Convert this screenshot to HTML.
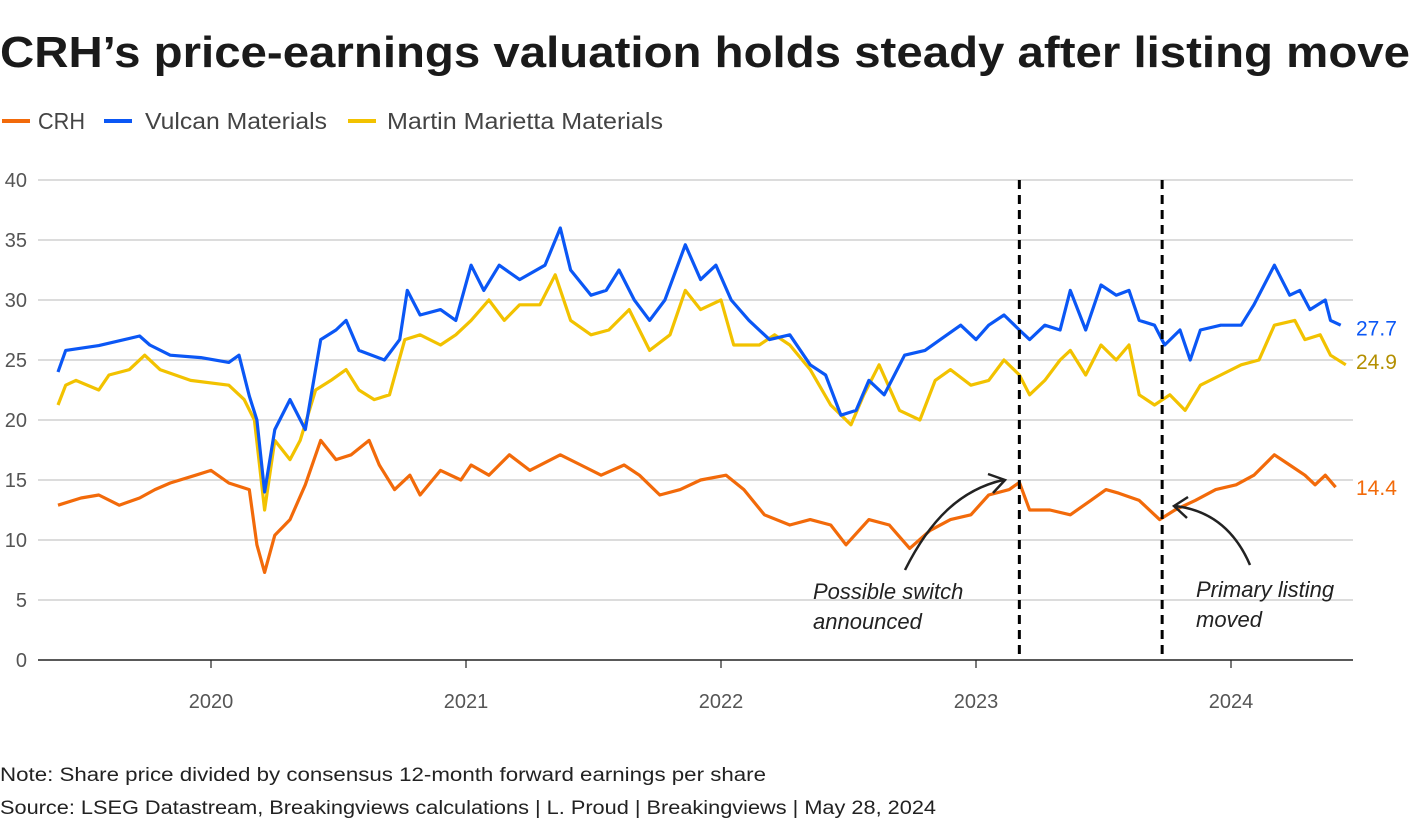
<!DOCTYPE html>
<html><head><meta charset="utf-8"><style>
body{margin:0;background:#fff;font-family:"Liberation Sans",sans-serif;}
#wrap{position:relative;width:1420px;height:828px;overflow:hidden;}
</style></head><body>
<div id="wrap">
<svg id="chart" width="1420" height="828">
<text x="0" y="67" font-size="44" font-weight="bold" fill="#1a1a1a" textLength="1410" lengthAdjust="spacingAndGlyphs">CRH’s price-earnings valuation holds steady after listing move</text>
<g font-size="23" fill="#444">
<line x1="2" y1="121" x2="30" y2="121" stroke="#f26a0a" stroke-width="4"/>
<text x="38" y="129" textLength="47" lengthAdjust="spacingAndGlyphs">CRH</text>
<line x1="104" y1="121" x2="132" y2="121" stroke="#0b57f5" stroke-width="4"/>
<text x="145" y="129" textLength="182" lengthAdjust="spacingAndGlyphs">Vulcan Materials</text>
<line x1="348" y1="121" x2="376" y2="121" stroke="#f2c200" stroke-width="4"/>
<text x="387" y="129" textLength="276" lengthAdjust="spacingAndGlyphs">Martin Marietta Materials</text>
</g>
<g id="grid"></g><g id="xaxis"></g><g id="series"></g><g id="annot"></g>
<text x="0" y="781" font-size="19" fill="#222" textLength="766" lengthAdjust="spacingAndGlyphs">Note: Share price divided by consensus 12-month forward earnings per share</text>
<text x="0" y="814" font-size="19" fill="#222" textLength="936" lengthAdjust="spacingAndGlyphs">Source: LSEG Datastream, Breakingviews calculations | L. Proud | Breakingviews | May 28, 2024</text>
</svg>
</div>
<script>
const yTicks=[0,5,10,15,20,25,30,35,40];
const xYears=[2020,2021,2022,2023,2024];
const eventDates=[2023.17,2023.73];
const vulcanDates=[2019.40,2019.43,2019.56,2019.72,2019.76,2019.84,2019.96,2020.07,2020.11,2020.15,2020.18,2020.21,2020.25,2020.31,2020.37,2020.43,2020.49,2020.53,2020.58,2020.68,2020.74,2020.77,2020.82,2020.90,2020.96,2021.02,2021.07,2021.13,2021.21,2021.31,2021.37,2021.41,2021.49,2021.55,2021.60,2021.66,2021.72,2021.78,2021.86,2021.92,2021.98,2022.04,2022.11,2022.19,2022.27,2022.35,2022.41,2022.47,2022.53,2022.58,2022.64,2022.72,2022.80,2022.86,2022.94,2023.00,2023.05,2023.11,2023.17,2023.21,2023.27,2023.33,2023.37,2023.43,2023.49,2023.55,2023.60,2023.64,2023.70,2023.74,2023.80,2023.84,2023.88,2023.96,2024.04,2024.09,2024.17,2024.23,2024.27,2024.31,2024.37,2024.39,2024.43];
const vulcanValues=[24,25.8,26.2,27,26.25,25.4,25.2,24.8,25.4,22,20,14,19.2,21.7,19.2,26.7,27.5,28.3,25.8,25,26.7,30.8,28.75,29.2,28.3,32.9,30.8,32.9,31.7,32.9,36,32.5,30.4,30.8,32.5,30,28.3,30,34.6,31.7,32.9,30,28.3,26.7,27.1,24.6,23.75,20.4,20.8,23.3,22.1,25.4,25.8,26.7,27.9,26.7,27.9,28.75,27.5,26.7,27.9,27.5,30.8,27.5,31.25,30.4,30.8,28.3,27.9,26.25,27.5,25,27.5,27.9,27.9,29.6,32.9,30.4,30.8,29.2,30,28.3,27.9];
const martinDates=[2019.40,2019.43,2019.47,2019.56,2019.60,2019.68,2019.74,2019.80,2019.92,2020.07,2020.13,2020.17,2020.21,2020.25,2020.31,2020.35,2020.41,2020.47,2020.53,2020.58,2020.64,2020.70,2020.76,2020.82,2020.90,2020.96,2021.02,2021.09,2021.15,2021.21,2021.29,2021.35,2021.41,2021.49,2021.56,2021.64,2021.72,2021.80,2021.86,2021.92,2022.00,2022.05,2022.15,2022.21,2022.27,2022.35,2022.43,2022.51,2022.56,2022.62,2022.70,2022.78,2022.84,2022.90,2022.98,2023.05,2023.11,2023.17,2023.21,2023.27,2023.33,2023.37,2023.43,2023.49,2023.55,2023.60,2023.64,2023.70,2023.76,2023.82,2023.88,2023.96,2024.04,2024.11,2024.17,2024.25,2024.29,2024.35,2024.39,2024.45];
const martinValues=[21.25,22.9,23.3,22.5,23.75,24.2,25.4,24.2,23.3,22.9,21.7,20,12.5,18.3,16.7,18.3,22.5,23.3,24.2,22.5,21.7,22.1,26.7,27.1,26.25,27.1,28.3,30,28.3,29.6,29.6,32.1,28.3,27.1,27.5,29.2,25.8,27.1,30.8,29.2,30,26.25,26.25,27.1,26.25,24.2,21.25,19.6,22.1,24.6,20.8,20,23.3,24.2,22.9,23.3,25,23.75,22.1,23.3,25,25.8,23.75,26.25,25,26.25,22.1,21.25,22.1,20.8,22.9,23.75,24.6,25,27.9,28.3,26.7,27.1,25.4,24.6];
const crhDates=[2019.40,2019.49,2019.56,2019.64,2019.72,2019.78,2019.84,2019.94,2020.00,2020.07,2020.15,2020.18,2020.21,2020.25,2020.31,2020.37,2020.43,2020.49,2020.55,2020.62,2020.66,2020.72,2020.78,2020.82,2020.90,2020.98,2021.02,2021.09,2021.17,2021.25,2021.37,2021.45,2021.53,2021.62,2021.68,2021.76,2021.84,2021.92,2022.02,2022.09,2022.17,2022.27,2022.35,2022.43,2022.49,2022.58,2022.66,2022.74,2022.82,2022.90,2022.98,2023.05,2023.13,2023.17,2023.21,2023.29,2023.37,2023.45,2023.51,2023.56,2023.64,2023.72,2023.78,2023.86,2023.94,2024.02,2024.09,2024.17,2024.23,2024.29,2024.33,2024.37,2024.41];
const crhValues=[12.9,13.5,13.75,12.9,13.5,14.2,14.75,15.4,15.8,14.75,14.2,9.6,7.3,10.4,11.7,14.6,18.3,16.7,17.1,18.3,16.25,14.2,15.4,13.75,15.8,15,16.25,15.4,17.1,15.8,17.1,16.25,15.4,16.25,15.4,13.75,14.2,15,15.4,14.2,12.1,11.25,11.7,11.25,9.6,11.7,11.25,9.3,10.8,11.7,12.1,13.75,14.2,14.8,12.5,12.5,12.1,13.3,14.2,13.9,13.3,11.7,12.5,13.3,14.2,14.6,15.4,17.1,16.25,15.4,14.6,15.4,14.4];
const endLabels=["27.7","24.9","14.4"];
const endValues=[27.7,24.9,14.4];

const NS="http://www.w3.org/2000/svg";
const X0=38,X1=1353,Y0=660,Y1=180;
function xs(t){return 211+(t-2020)*255;}
function ys(v){return Y0-(v/40)*(Y0-Y1);}
function mk(tag,attrs,parent,text){const e=document.createElementNS(NS,tag);for(const k in attrs)e.setAttribute(k,attrs[k]);if(text!==undefined)e.textContent=text;parent.appendChild(e);return e;}
const grid=document.getElementById('grid'),xa=document.getElementById('xaxis'),ser=document.getElementById('series'),an=document.getElementById('annot');
yTicks.forEach(v=>{
  const l=mk('line',{x1:X0,x2:X1,y1:ys(v),y2:ys(v),stroke:v===0?'#222':'#c8c8c8','stroke-width':v===0?1.5:1.2},grid);
  
  
  const t=mk('text',{x:27,y:ys(v)+7,'text-anchor':'end','font-size':20,fill:'#555'},grid,String(v));
  
  
});
xYears.forEach(y=>{
  const l=mk('line',{x1:xs(y),x2:xs(y),y1:Y0,y2:Y0+8,stroke:'#222','stroke-width':1.2},xa);
  
  
  const t=mk('text',{x:xs(y),y:708,'text-anchor':'middle','font-size':20,fill:'#555'},xa,String(y));
  
  
});
function line(d,v,c,name){
  const p=d.map((t,i)=>(i?'L':'M')+xs(t).toFixed(1)+','+ys(v[i]).toFixed(1)).join('');
  const e=mk('path',{d:p,fill:'none',stroke:c,'stroke-width':3.2,'stroke-linejoin':'round'},ser);
  
  
}
line(martinDates,martinValues,'#f2c200','martin-marietta-line');
line(vulcanDates,vulcanValues,'#0b57f5','vulcan-line');
line(crhDates,crhValues,'#f26a0a','crh-line');
const ecol=['#0b57f5','#b38f00','#f26a0a'];
endLabels.forEach((s,i)=>{
  const t=mk('text',{x:1356,y:ys(endValues[i])+8,'font-size':21,fill:ecol[i]},ser,s);
  
  
});
eventDates.forEach((d,i)=>{
  const l=mk('line',{x1:xs(d),x2:xs(d),y1:Y1,y2:Y0,stroke:'#000','stroke-width':3,'stroke-dasharray':'9,6'},an);
  
  
});
const a1=mk('path',{d:'M905,570 C930,520 960,490 1003,480 M988,474 L1005,480 L993,493',fill:'none',stroke:'#222','stroke-width':2.5},an);


const a2=mk('path',{d:'M1250,565 C1235,530 1210,510 1175,506 M1188,497 L1174,506 L1187,518',fill:'none',stroke:'#222','stroke-width':2.5},an);


const t1=mk('text',{x:813,y:599,'font-size':22,'font-style':'italic',fill:'#222'},an);


mk('tspan',{x:813},t1,'Possible switch');mk('tspan',{x:813,dy:30},t1,'announced');
const t2=mk('text',{x:1196,y:597,'font-size':22,'font-style':'italic',fill:'#222'},an);


mk('tspan',{x:1196},t2,'Primary listing');mk('tspan',{x:1196,dy:30},t2,'moved');
</script>
</body></html>
